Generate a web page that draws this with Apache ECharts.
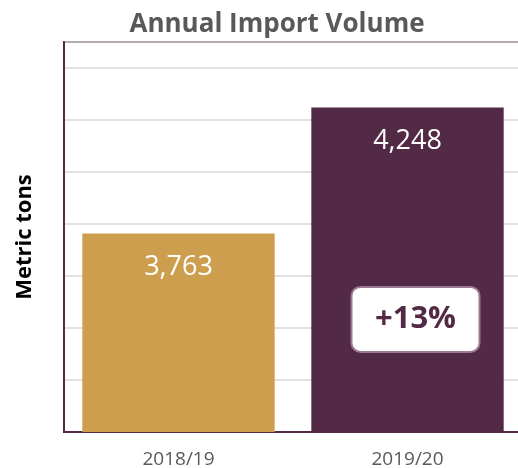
<!DOCTYPE html>
<html>
<head>
<meta charset="utf-8">
<script src="https://cdn.jsdelivr.net/npm/echarts@6/dist/echarts.min.js"></script>
<style>
  html, body { margin: 0; padding: 0; background: #fff; }
  #chart { width: 518px; height: 468px; }
</style>
</head>
<body>
<div id="chart"></div>
<script>
// data
const years = ['2018/19', '2019/20']
const volumes = [3763, 4248]
const barColors = ['#CE9E4F', '#532A45']

const purple = '#532A45'
const growth = Math.round((volumes[1] - volumes[0]) / volumes[0] * 100)

const chart = echarts.init(document.getElementById('chart'))
const option = {
  animation: false,
  title: {
    text: 'Annual Import Volume',
    left: 272,
    top: 7,
    textAlign: 'center',
    textStyle: {
      fontFamily: 'Open Sans',
      fontSize: 26,
      fontWeight: 'bold',
      color: '#595959'
    }
  },
  grid: {
    left: 64,
    right: -4,
    top: 42,
    bottom: 36,
    outerBoundsMode: 'none',
    show: true,
    borderColor: purple,
    borderWidth: 2
  },
  xAxis: {
    type: 'category',
    data: years,
    axisTick: { show: false },
    axisLine: { lineStyle: { color: purple, width: 2 } },
    axisLabel: {
      color: '#595959',
      fontFamily: 'Open Sans',
      fontSize: 19,
      margin: 18
    }
  },
  yAxis: {
    type: 'value',
    min: 3000,
    max: 4500,
    interval: 200,
    name: 'Metric tons',
    nameLocation: 'middle',
    nameGap: 28,
    nameTextStyle: {
      fontFamily: 'Open Sans',
      fontSize: 22,
      fontWeight: 'bold',
      color: '#000'
    },
    axisLabel: { show: false },
    axisTick: { show: false },
    axisLine: { show: true, lineStyle: { color: purple, width: 2 } },
    splitLine: { lineStyle: { color: '#D9D9D9', width: 1.5 } }
  },
  series: [
    {
      type: 'bar',
      barWidth: '84%',
      data: volumes.map((v, i) => ({ value: v, itemStyle: { color: barColors[i] } })),
      label: {
        show: true,
        position: 'insideTop',
        distance: 20,
        color: '#fff',
        fontFamily: 'Open Sans',
        fontSize: 27,
        formatter: p => p.value.toLocaleString('en-US')
      },
      markPoint: {
        symbol: 'circle',
        symbolSize: 1,
        itemStyle: { color: 'rgba(0,0,0,0)' },
        data: [{ coord: [years[1], 3433], value: growth }],
        label: {
          show: true,
          position: 'inside',
          offset: [8, 0],
          formatter: '+' + growth + '%',
          color: purple,
          fontFamily: 'Open Sans',
          fontSize: 31,
          fontWeight: 'bold',
          backgroundColor: '#fff',
          borderColor: '#9A7A90',
          borderWidth: 2,
          borderRadius: 8,
          width: 126,
          height: 63,
          lineHeight: 63,
          align: 'center',
          verticalAlign: 'middle'
        }
      }
    }
  ]
}
chart.setOption(option)
</script>
</body>
</html>
